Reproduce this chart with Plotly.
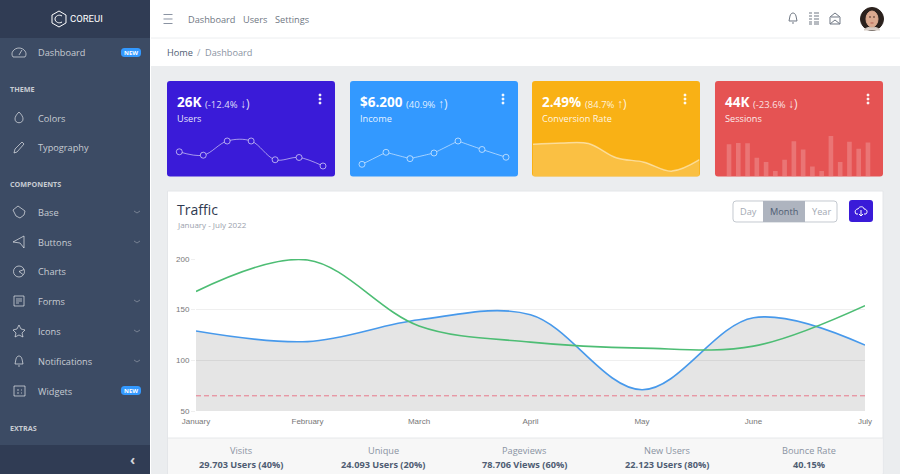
import plotly.graph_objects as go

W, H = 900, 474

months = ['January', 'February', 'March', 'April', 'May', 'June', 'July']
visits = [129, 118.5, 140, 145, 71, 142, 115]
pageviews = [168, 199, 134, 118, 112, 114, 154]
threshold = [65, 65, 65, 65, 65, 65, 65]

users_values = [65, 59, 84, 84, 51, 55, 40]
income_values = [1, 18, 9, 17, 34, 22, 11]
conversion_values = [78, 81, 80, 45, 34, 12, 40]
sessions_values = [78, 81, 80, 45, 34, 12, 40, 85, 65, 23, 12, 98, 34, 84, 67, 82]

sidebar_items = ['Dashboard', 'Colors', 'Typography', 'Base', 'Buttons', 'Charts',
                 'Forms', 'Icons', 'Notifications', 'Widgets']
sidebar_titles = ['THEME', 'COMPONENTS', 'EXTRAS']
footer_labels = ['Visits', 'Unique', 'Pageviews', 'New Users', 'Bounce Rate']
footer_values = ['29.703 Users (40%)', '24.093 Users (20%)', '78.706 Views (60%)',
                 '22.123 Users (80%)', '40.15%']

FONT = 'Open Sans'
ICON = 'rgba(255,255,255,0.6)'
GREY = '#6f7783'

shapes = []
notes = []


def px(x):
    return x / W


def py(y):
    return 1 - y / H


def text(x, y, s, size=9.5, color='#4f5d73', anchor='left', family=FONT):
    if anchor == 'left':
        x -= 1
    notes.append(dict(x=px(x), y=py(y), xref='paper', yref='paper', text=s, showarrow=False,
                      xanchor=anchor, yanchor='middle', borderpad=0,
                      font=dict(family=family, size=size, color=color)))


def rect(x0, y0, x1, y1, fill, line=None):
    shapes.append(dict(type='rect', xref='paper', yref='paper', layer='below',
                       x0=px(x0), y0=py(y0), x1=px(x1), y1=py(y1), fillcolor=fill,
                       line=dict(width=1 if line else 0, color=line or fill)))


def draw(cx, cy, d, color=ICON, fill=None, width=1):
    # d uses pixels relative to (cx, cy), y going down
    out = []
    nums = []
    for tok in d.split():
        if tok.isalpha():
            out.append(tok)
            nums = []
        else:
            nums.append(float(tok))
            if len(nums) == 2:
                out.append('%.5f,%.5f' % (px(cx + nums[0]), py(cy + nums[1])))
                nums = []
    shapes.append(dict(type='path', xref='paper', yref='paper', layer='below', path=' '.join(out),
                       fillcolor=fill or 'rgba(0,0,0,0)', line=dict(color=color, width=width)))


def round_rect(x0, y0, x1, y1, r, fill, line=None):
    w, h = x1 - x0, y1 - y0
    d = ('M %g 0 L %g 0 Q %g 0 %g %g L %g %g Q %g %g %g %g L %g %g Q 0 %g 0 %g L 0 %g Q 0 0 %g 0 Z'
         % (r, w - r, w, w, r, w, h - r, w, h, w - r, h, r, h, h, h - r, r, r))
    draw(x0, y0, d, color=line or fill, fill=fill, width=1 if line else 0)


def circle(cx, cy, r, color=ICON, fill=None, rx=None, width=1):
    rx = rx or r
    shapes.append(dict(type='circle', xref='paper', yref='paper', layer='below',
                       x0=px(cx - rx), y0=py(cy - r), x1=px(cx + rx), y1=py(cy + r),
                       fillcolor=fill or 'rgba(0,0,0,0)', line=dict(color=color, width=width)))


# page frame
rect(0, 0, W, H, '#ebedef')
rect(150, 0, W, 38, '#ffffff')
rect(150, 38, W, 66, '#ffffff')
shapes.append(dict(type='line', xref='paper', yref='paper', layer='below', x0=px(150), x1=1,
                   y0=py(38), y1=py(38), line=dict(color='#eceef0', width=1)))
rect(0, 0, 150, H, '#3c4b64')
rect(0, 0, 150, 38, '#303c54')
rect(0, 445, 150, H, '#303c54')
rect(150, 0, 151, H, '#ffffff')

# logo
draw(59, 19, 'M 0 -8 L 7 -4 L 7 4 L 0 8 L -7 4 L -7 -4 Z', color='#ffffff', width=1)
draw(59, 19, 'M 3 -3 C 0 -5 -4 -3 -4 0 C -4 3 0 5 3 3', color='#ffffff', width=1)
text(70, 19, 'COREUI', size=9.5, color='#ffffff', family='Roboto')

# sidebar
rows = [53, 118, 148, 212, 242, 271.5, 301, 331, 361, 391]
for name, y in zip(sidebar_items, rows):
    text(38, y, name, size=9.2, color='rgba(255,255,255,0.72)')
for name, y in zip(sidebar_titles, [89.5, 184, 427.5]):
    text(10, y, '<b>' + name + '</b>', size=7.2, color='rgba(255,255,255,0.72)')
for y in [212, 242, 301, 331, 361]:
    draw(137, y, 'M -3 -1 L 0 1 L 3 -1', color='rgba(255,255,255,0.3)')
for y in [52.5, 390.5]:
    round_rect(121, y - 4.5, 141, y + 4.5, 3.5, '#3399ff')
    text(131, y, '<b>NEW</b>', size=6, color='#ffffff', anchor='center')
text(132, 459, '<b>‹</b>', size=14, color='rgba(255,255,255,0.8)', anchor='center')

draw(19, 53, 'M -6 4 L 6 4 C 9 0 5 -5 0 -5 C -5 -5 -9 0 -6 4 Z M 0 2 L 3 -3')
draw(19, 118, 'M 0 -6 C 3 -3 4 -1 4 1 C 4 6 -4 6 -4 1 C -4 -1 -3 -3 0 -6 Z')
draw(19, 147, 'M -5 6 L -4 2 L 3 -5 L 5 -3 L -2 5 Z')
draw(19, 212, 'M -6 -2 L -1 -6 L 6 -1 L 5 3 L 1 6 L -3 4 Z')
draw(19, 242, 'M 5 -6 L -6 0 L 1 1 L 5 6 Z')
circle(19, 271.5, 5.5)
draw(19, 271.5, 'M 0 0 L 5 -2 M 0 0 L 4 3')
draw(19, 301, 'M -5 -5 L 5 -5 L 5 5 L -5 5 Z M -3 -2 L 3 -2 M -3 0 L 3 0 M -3 2 L 0 2')
draw(19, 331, 'M 0 -6 L 2 -2 L 6 -1 L 3 2 L 4 6 L 0 4 L -4 6 L -3 2 L -6 -1 L -2 -2 Z')
draw(19, 361, 'M -4 3 L -3 -2 C -2 -6 2 -6 3 -2 L 4 3 Z M -1 5 L 1 5')
draw(19, 391, 'M -5 -5 L 6 -5 L 6 5 L -5 5 Z M -2 -1 L 0 -1 M 2 -1 L 3 -1 M -2 2 L 0 2 M 2 2 L 3 2')

# top bar
for y in [14.5, 19, 23.5]:
    draw(168, y, 'M -4.5 0 L 4.5 0', color='#8a93a2')
text(188, 19.5, 'Dashboard', size=9.2, color=GREY)
text(243, 19.5, 'Users', size=9.2, color=GREY)
text(274.5, 19.5, 'Settings', size=9.2, color=GREY)
draw(793, 18, 'M -4 3 L -3 -2 C -2 -6 2 -6 3 -2 L 4 3 Z M -1 5 L 1 5', color='#707884')
for y in [13, 16, 19, 22, 24]:
    draw(814, y, 'M -5 0 L -2 0 M 0 0 L 5 0', color='#707884', width=1.2)
draw(835, 19, 'M -5 -2 L 0 -6 L 5 -2 L 5 5 L -5 5 Z M -5 5 L 0 1 L 5 5 M -4 -2 L 4 -2', color='#707884')

# avatar
circle(872, 19, 11.5, color='#2b211d', fill='#2b211d')
draw(872, 19, 'M -8 11 C -5 7 5 7 8 11 Z', color='#d8cdc6', fill='#d8cdc6')
circle(872, 19, 8, color='#dba98f', fill='#dba98f', rx=6)
draw(872, 19, 'M -3 -2 L -1 -2 M 1 -2 L 3 -2', color='#4a2f25')
draw(872, 19, 'M -1.5 4 L 1.5 4', color='#b45a50')

# breadcrumb
text(167, 52.5, 'Home', size=9.2, color='#4f5d73')
text(197, 52.5, '/', size=9.2, color='#a0a7b2')
text(205, 52.5, 'Dashboard', size=9.2, color='#8a93a2')

# widget cards
cards = [
    (167, 335, '#3a1bd8', '26K', '(-12.4% ', '↓)', 'Users', 205),
    (350, 518, '#3399ff', '$6.200', '(40.9% ', '↑)', 'Income', 406),
    (532, 700, '#f9b115', '2.49%', '(84.7% ', '↑)', 'Conversion Rate', 585),
    (715, 883, '#e55353', '44K', '(-23.6% ', '↓)', 'Sessions', 753),
]
for x0, x1, color, big, small, arrow, label, small_x in cards:
    round_rect(x0, 81, x1, 176.5, 3, color)
    text(x0 + 10, 102, '<b>' + big + '</b>', size=13.5, color='#ffffff')
    text(small_x, 103, small + '<span style="font-size:12px">' + arrow + '</span>', size=9.5,
         color='rgba(255,255,255,0.85)')
    text(x0 + 10, 119, label, size=9.2, color='rgba(255,255,255,0.9)')
    for dy in [95, 99, 103]:
        circle(x1 - 15, dy, 1, color='#ffffff', fill='#ffffff')

# traffic card
rect(167.5, 191, 883, H, '#ffffff', line='#e4e6e9')
rect(168, 438, 882.5, H, '#f7f7f7')
shapes.append(dict(type='line', xref='paper', yref='paper', layer='below', x0=px(168), x1=px(883),
                   y0=py(438), y1=py(438), line=dict(color='#e6e8ea', width=1)))
text(177, 210, 'Traffic', size=14, color='#2f3a50')
text(177, 224, 'January - July 2022', size=8, color='#9aa1ac')

round_rect(733, 201, 837, 222, 3, '#ffffff', line='#c4c9d0')
rect(763, 201, 805, 222, '#aeb4bf')
text(748, 211.5, 'Day', size=9.2, color='#a3a9b3', anchor='center')
text(784, 211.5, 'Month', size=9.2, color='#4f5d73', anchor='center')
text(821, 211.5, 'Year', size=9.2, color='#a3a9b3', anchor='center')
round_rect(849, 200, 873, 222, 3, '#3a1bd8')
draw(861, 211, 'M -3 3 L -5 3 C -7 0 -5 -2 -3 -2 C -2 -5 3 -5 3 -2 C 6 -2 7 1 5 3 L 3 3 M 0 -1 L 0 5 M -2 3 L 0 5 L 2 3',
     color='#ffffff')

for x, label, value in zip([241, 383, 524, 667, 809], footer_labels, footer_values):
    text(x, 450.5, label, size=9.2, color='#8a93a2', anchor='center')
    text(x, 464, '<b>' + value + '</b>', size=9.2, color='#4f5d73', anchor='center')

fig = go.Figure()

# main chart
fig.add_trace(go.Scatter(x=months, y=visits, mode='lines', fill='tozeroy', fillcolor='rgba(0,0,0,0.1)',
                         line=dict(color='#4799eb', width=1.6, shape='spline', smoothing=1)))
fig.add_trace(go.Scatter(x=months, y=pageviews, mode='lines', cliponaxis=False,
                         line=dict(color='#4dbd74', width=1.6, shape='spline', smoothing=1)))
fig.add_trace(go.Scatter(x=months, y=threshold, mode='lines',
                         line=dict(color='#e8788a', width=1, dash='5px,3px')))


def spark(y, color, xa, ya, smoothing):
    return go.Scatter(y=y, mode='lines+markers', xaxis=xa, yaxis=ya, cliponaxis=False,
                      line=dict(color='rgba(255,255,255,0.55)', width=1, shape='spline', smoothing=smoothing),
                      marker=dict(size=6, color=color, line=dict(color='rgba(255,255,255,0.6)', width=1)))


fig.add_trace(spark(users_values, '#3a1bd8', 'x2', 'y2', 1))
fig.add_trace(spark(income_values, '#3399ff', 'x3', 'y3', 0))
fig.add_trace(go.Scatter(y=conversion_values, mode='lines', xaxis='x4', yaxis='y4', fill='tozeroy',
                         fillcolor='rgba(255,255,255,0.2)',
                         line=dict(color='rgba(255,255,255,0.5)', width=1.5, shape='spline', smoothing=1)))
fig.add_trace(go.Bar(y=sessions_values, xaxis='x5', yaxis='y5', marker=dict(color='rgba(255,255,255,0.2)', line_width=0)))

hidden = dict(visible=False, showgrid=False, zeroline=False, fixedrange=True)
tick_font = dict(family='Liberation Sans', size=8, color='#777777')

fig.update_layout(
    width=W, height=H, margin=dict(l=0, r=0, t=0, b=0, autoexpand=False), showlegend=False, bargap=0.5,
    paper_bgcolor='rgba(0,0,0,0)', plot_bgcolor='rgba(0,0,0,0)',
    shapes=shapes, annotations=notes,
    xaxis=dict(domain=[px(196), px(865)], range=[0, 6], showgrid=False, zeroline=False, showline=False,
               ticks='', tickfont=tick_font, ticklabelstandoff=4, anchor='y'),
    yaxis=dict(domain=[py(411), py(259)], range=[50, 200], tickvals=[50, 100, 150, 200], showline=False,
               gridcolor='#efefef', gridwidth=1, zeroline=False, ticks='outside', ticklen=4,
               tickcolor='#efefef', tickfont=tick_font, anchor='x'),
    xaxis2=dict(hidden, domain=[px(179.3), px(323)], range=[0, 6], anchor='y2'),
    # 0.568 px per unit, with room above for the curve's overshoot
    yaxis2=dict(hidden, domain=[py(166), py(136)], range=[40, 92.8], anchor='x2'),
    xaxis3=dict(hidden, domain=[px(362), px(506)], range=[0, 6], anchor='y3'),
    yaxis3=dict(hidden, domain=[py(164.3), py(141)], range=[1, 34], anchor='x3'),
    xaxis4=dict(hidden, domain=[px(533), px(699.5)], range=[0, 6], anchor='y4'),
    yaxis4=dict(hidden, domain=[py(176), py(141)], range=[0, 86], anchor='x4'),
    xaxis5=dict(hidden, domain=[px(724.4), px(872.6)], range=[-0.5, 15.5], anchor='y5'),
    yaxis5=dict(hidden, domain=[py(176), py(136)], range=[0, 98], anchor='x5'),
)

fig.write_html('out.html', config=dict(displayModeBar=False),
               post_script="document.body.style.margin='0';document.body.style.overflow='hidden';")
